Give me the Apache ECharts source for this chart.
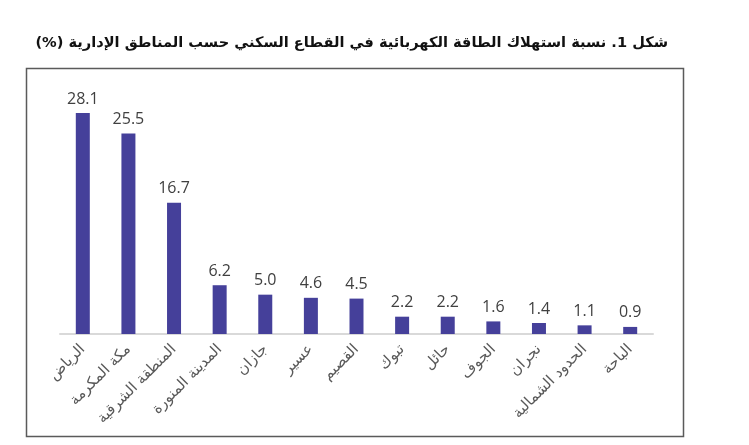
<!DOCTYPE html>
<html>
<head>
<meta charset="utf-8">
<script src="https://cdn.jsdelivr.net/npm/echarts@6/dist/echarts.min.js"></script>
<style>
html,body{margin:0;padding:0;background:#fff;}
#chart{width:749px;height:445px;}
</style>
</head>
<body>
<div id="chart" dir="rtl"></div>
<script>
const titleText = 'شكل 1. نسبة استهلاك الطاقة الكهربائية في القطاع السكني حسب المناطق الإدارية (%)';
const regions = ['الرياض','مكة المكرمة','المنطقة الشرقية','المدينة المنورة','جازان','عسير','القصيم','تبوك','حائل','الجوف','نجران','الحدود الشمالية','الباحة'];
const shares = [28.1, 25.5, 16.7, 6.2, 5.0, 4.6, 4.5, 2.2, 2.2, 1.6, 1.4, 1.1, 0.9];

const chart = echarts.init(document.getElementById('chart'), null, {renderer:'canvas'});
chart.setOption({
  animation:false,
  backgroundColor:'#ffffff',
  title:{
    text:titleText,
    right:76, top:31,
    textStyle:{fontFamily:'"DejaVu Sans",sans-serif',fontSize:14.6,fontWeight:'bold',color:'#111111'}
  },
  graphic:[{
    type:'rect', left:24, top:66,
    shape:{x:0,y:0,width:657,height:368},
    style:{fill:'none',stroke:'#5a5a5a',lineWidth:1.5},
    silent:true
  }],
  grid:{left:60,right:96,top:98,bottom:111,containLabel:false},
  xAxis:{
    type:'category',
    data:regions,
    axisLine:{lineStyle:{color:'#d9d9d9',width:2}},
    axisTick:{show:false},
    axisLabel:{rotate:45,interval:0,margin:13,fontSize:15,color:'#595959',fontFamily:'"DejaVu Sans",sans-serif'}
  },
  yAxis:{type:'value',min:0,max:30,show:false,splitLine:{show:false}},
  series:[{
    type:'bar',
    data:shares,
    barWidth:14,
    itemStyle:{color:'#45409a'},
    label:{show:true,position:'top',distance:6,fontSize:16,color:'#404040',fontFamily:'"Open Sans",sans-serif',
      formatter:p=>p.value.toFixed(1)}
  }]
});
</script>
</body>
</html>
